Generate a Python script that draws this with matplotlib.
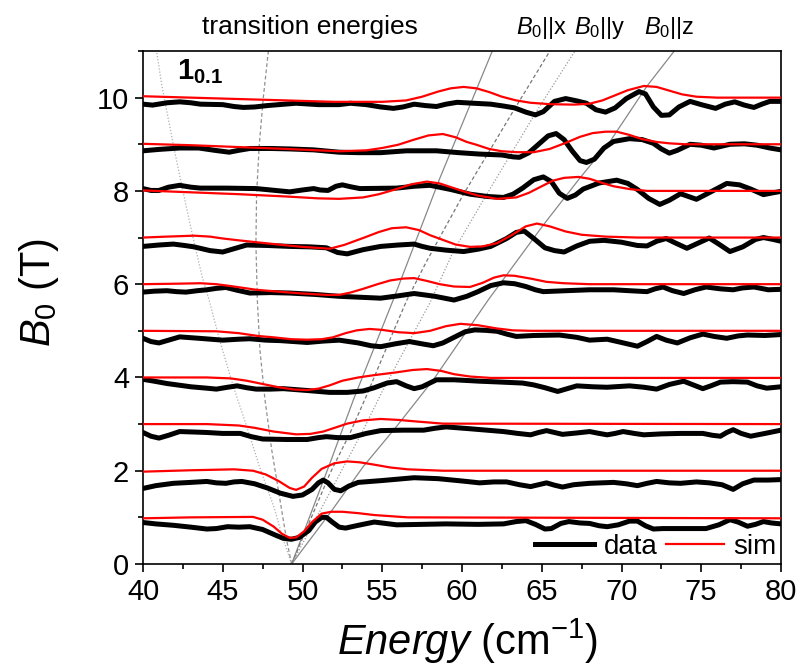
import matplotlib
matplotlib.use('Agg')
import matplotlib.pyplot as plt
from matplotlib.ticker import MultipleLocator
from matplotlib.lines import Line2D

plt.rcParams['font.family'] = ['Liberation Sans', 'DejaVu Sans']
plt.rcParams['mathtext.fontset'] = 'custom'
plt.rcParams['mathtext.rm'] = 'Liberation Sans'
plt.rcParams['mathtext.it'] = 'Liberation Sans:italic'
plt.rcParams['mathtext.bf'] = 'Liberation Sans:bold'

# measured spectra (energy in cm-1, offset by field in T)
data_1 = [(40, 0.89), (40.8, 0.86), (41.9, 0.83), (43, 0.79), (44, 0.75), (44.6, 0.76), (45.3, 0.8),
          (46, 0.79), (46.7, 0.8), (47.5, 0.74), (48.3, 0.62), (48.8, 0.55), (49.3, 0.53), (49.8, 0.57),
          (50.4, 0.72), (50.8, 0.9), (51.2, 1.0), (51.5, 1.0), (51.9, 0.89), (52.3, 0.79), (52.7, 0.77),
          (53.5, 0.83), (54.5, 0.9), (55.2, 0.87), (55.9, 0.84), (57.5, 0.85), (59, 0.86), (61, 0.85),
          (62.6, 0.86), (63.4, 0.91), (64, 0.93), (64.6, 0.85), (65.2, 0.75), (65.6, 0.76), (66.2, 0.87),
          (66.7, 0.91), (67.4, 0.88), (68, 0.87), (68.6, 0.82), (69.1, 0.8), (69.8, 0.84), (70.5, 0.92),
          (71, 0.92), (71.5, 0.82), (72, 0.75), (72.6, 0.76), (73.7, 0.76), (75.3, 0.76), (76.1, 0.84),
          (76.8, 0.95), (77.3, 0.9), (77.9, 0.81), (78.4, 0.85), (78.9, 0.91), (79.4, 0.88), (80, 0.86)]
data_2 = [(40, 1.62), (40.8, 1.68), (41.9, 1.73), (43, 1.75), (44, 1.77), (44.6, 1.74), (45.2, 1.73),
          (45.7, 1.76), (46.2, 1.77), (47, 1.72), (47.8, 1.63), (48.6, 1.52), (49.4, 1.45), (50, 1.48),
          (50.6, 1.6), (51, 1.74), (51.3, 1.8), (51.6, 1.74), (52.0, 1.6), (52.4, 1.57), (52.9, 1.67),
          (53.5, 1.75), (55, 1.79), (57, 1.85), (58.5, 1.83), (60, 1.78), (61.1, 1.74), (62, 1.76),
          (62.8, 1.76), (63.6, 1.7), (64.3, 1.66), (64.8, 1.7), (65.3, 1.74), (65.8, 1.69), (66.3, 1.65),
          (67, 1.7), (68, 1.73), (69.5, 1.75), (70.3, 1.72), (71, 1.68), (71.6, 1.73), (72.2, 1.77),
          (73, 1.74), (73.7, 1.73), (74.7, 1.76), (75.5, 1.74), (76.3, 1.7), (77, 1.6), (77.6, 1.72),
          (78.3, 1.8), (79.2, 1.8), (80, 1.81)]
data_3 = [(40, 2.82), (40.5, 2.74), (41, 2.7), (41.6, 2.76), (42.3, 2.84), (43.2, 2.83), (44, 2.82),
          (45, 2.8), (46.1, 2.8), (46.8, 2.73), (47.5, 2.68), (49, 2.67), (50.3, 2.67), (51, 2.71),
          (51.5, 2.73), (52.2, 2.71), (53, 2.71), (54, 2.8), (54.9, 2.86), (56.3, 2.87), (57.6, 2.87),
          (58.3, 2.91), (59, 2.94), (60.5, 2.9), (62.6, 2.84), (63.5, 2.8), (64.3, 2.77), (64.8, 2.82),
          (65.3, 2.86), (65.8, 2.82), (66.3, 2.78), (67.2, 2.81), (68, 2.84), (68.6, 2.8), (69.1, 2.77),
          (69.6, 2.8), (70.1, 2.84), (70.8, 2.8), (71.4, 2.77), (72.5, 2.79), (73.7, 2.8), (75.1, 2.8),
          (75.7, 2.76), (76.2, 2.74), (76.6, 2.82), (77, 2.88), (77.5, 2.8), (78.1, 2.74), (79, 2.8),
          (80, 2.87)]
data_4 = [(40, 3.96), (40.7, 3.92), (41.5, 3.87), (43, 3.8), (44, 3.77), (44.6, 3.75), (45.3, 3.79),
          (45.9, 3.82), (46.5, 3.78), (47.1, 3.75), (48, 3.75), (48.8, 3.76), (50.3, 3.72), (51.7, 3.68),
          (52.8, 3.68), (53.8, 3.71), (54.5, 3.78), (55.3, 3.88), (55.9, 3.91), (56.5, 3.82), (57, 3.76),
          (57.5, 3.8), (58.4, 3.95), (59.5, 3.95), (61.1, 3.92), (62.5, 3.9), (63.8, 3.88), (64.5, 3.84),
          (65.2, 3.78), (66, 3.7), (66.6, 3.76), (67.2, 3.82), (68.2, 3.8), (69.1, 3.79), (70.5, 3.82),
          (71.4, 3.79), (72.2, 3.75), (73, 3.85), (73.9, 3.92), (74.5, 3.84), (75.1, 3.76), (75.6, 3.82),
          (76.2, 3.9), (77, 3.91), (77.9, 3.9), (78.5, 3.82), (79.1, 3.77), (80, 3.8)]
data_5 = [(40, 4.84), (40.5, 4.77), (41, 4.74), (41.6, 4.8), (42.3, 4.87), (43.5, 4.84), (45, 4.8),
          (46, 4.82), (46.7, 4.83), (47.7, 4.8), (48.6, 4.79), (50.3, 4.75), (51.3, 4.78), (52.3, 4.8),
          (53.5, 4.74), (54.3, 4.68), (54.9, 4.66), (55.8, 4.72), (56.7, 4.77), (57.5, 4.72), (58.2, 4.68),
          (58.8, 4.74), (59.5, 4.86), (60.2, 4.98), (60.8, 5.02), (61.5, 5.01), (62.2, 4.99), (62.8, 4.93),
          (63.4, 4.88), (64.5, 4.9), (66.1, 4.91), (67.2, 4.86), (68, 4.8), (69.1, 4.82), (70, 4.75),
          (71, 4.67), (71.6, 4.77), (72.2, 4.88), (72.8, 4.8), (73.5, 4.74), (74.3, 4.85), (75.1, 4.93),
          (75.8, 4.88), (76.6, 4.84), (77.3, 4.89), (77.9, 4.91), (79, 4.9), (80, 4.92)]
data_6 = [(40, 5.83), (40.7, 5.85), (41.5, 5.86), (42.1, 5.84), (42.7, 5.83), (43.4, 5.86), (44, 5.88),
          (44.6, 5.91), (45.2, 5.93), (45.9, 5.87), (46.7, 5.81), (48, 5.82), (49.2, 5.81), (50.8, 5.78),
          (52.3, 5.74), (53.6, 5.72), (54.9, 5.7), (56, 5.75), (57, 5.8), (58.3, 5.74), (59.5, 5.66),
          (60.3, 5.74), (61, 5.84), (61.8, 5.97), (62.6, 6.03), (63.3, 6.01), (64, 5.95), (64.6, 5.88),
          (65.1, 5.84), (66.5, 5.86), (68, 5.88), (69.5, 5.88), (70.5, 5.86), (71.6, 5.84), (72.1, 5.9),
          (72.6, 5.94), (73.2, 5.86), (73.9, 5.8), (74.6, 5.88), (75.3, 5.94), (76.2, 5.9), (77, 5.88),
          (77.6, 5.92), (78.3, 5.94), (79.2, 5.88), (80, 5.89)]
data_7 = [(40, 6.81), (41, 6.84), (41.9, 6.86), (42.6, 6.83), (43.2, 6.8), (44.2, 6.72), (45, 6.69),
          (45.8, 6.77), (46.5, 6.84), (47.8, 6.83), (49.2, 6.81), (50.5, 6.8), (51.5, 6.78), (52.2, 6.68),
          (52.8, 6.65), (53.8, 6.74), (54.9, 6.81), (56, 6.84), (57, 6.86), (57.5, 6.81), (58, 6.77),
          (59, 6.73), (60.1, 6.7), (61, 6.75), (61.8, 6.81), (62.8, 6.98), (63.4, 7.11), (63.9, 7.14),
          (64.5, 6.98), (65.2, 6.78), (65.8, 6.72), (66.4, 6.69), (67.2, 6.82), (68, 6.92), (68.9, 6.94),
          (70, 6.9), (71, 6.83), (71.6, 6.82), (72.2, 6.92), (72.8, 6.98), (73.4, 6.88), (74.1, 6.77),
          (74.8, 6.88), (75.5, 6.99), (76.1, 6.86), (76.8, 6.7), (77.6, 6.8), (78.4, 6.96), (78.9, 7.0),
          (79.5, 6.96), (80, 6.92)]
data_8 = [(40, 8.05), (40.5, 8.01), (41, 8.01), (41.6, 8.08), (42.3, 8.12), (43, 8.08), (43.6, 8.06),
          (45.2, 8.06), (47.1, 8.05), (48.3, 8.01), (49.2, 7.98), (50, 8.02), (50.7, 8.05), (51.1, 8.02),
          (51.6, 8.01), (52.1, 8.1), (52.5, 8.13), (53, 8.09), (53.6, 8.05), (55.9, 8.06), (57, 8.1),
          (58, 8.12), (59.3, 8.03), (60.5, 7.93), (61.6, 7.88), (62.6, 7.86), (63.2, 7.93), (63.8, 8.06),
          (64.5, 8.24), (65.1, 8.3), (65.6, 8.2), (66.1, 7.95), (66.6, 7.84), (67.1, 7.91), (67.6, 8.04),
          (68.6, 8.17), (69.7, 8.23), (70.4, 8.16), (71, 8.03), (71.7, 7.84), (72.4, 7.71), (73, 7.8),
          (73.7, 7.94), (74.2, 7.88), (74.7, 7.82), (75.6, 7.98), (76.6, 8.16), (77.4, 8.13), (78.1, 8.04),
          (78.9, 7.92), (79.5, 7.96), (80, 7.99)]
data_9 = [(40, 8.86), (41, 8.89), (42.3, 8.92), (43.5, 8.92), (44.5, 8.87), (45.4, 8.83), (46, 8.87),
          (46.7, 8.91), (48, 8.91), (49.2, 8.9), (50.7, 8.88), (52.3, 8.83), (53.5, 8.82), (54.9, 8.82),
          (56.5, 8.86), (58.4, 8.86), (59.8, 8.82), (61.1, 8.79), (62.5, 8.77), (63.2, 8.73), (63.6, 8.72),
          (64.2, 8.82), (64.8, 9.0), (65.4, 9.18), (65.9, 9.23), (66.4, 9.1), (66.9, 8.86), (67.4, 8.65),
          (67.8, 8.61), (68.3, 8.68), (68.9, 8.92), (69.5, 9.06), (70.5, 9.12), (71.3, 9.1), (72, 9.02),
          (72.5, 8.9), (73, 8.81), (73.5, 8.87), (74.3, 9.0), (75, 8.98), (75.8, 8.92), (76.8, 9.0),
          (77.7, 9.01), (78.5, 8.98), (79.3, 8.92), (80, 8.88)]
data_10 = [(40, 9.86), (40.6, 9.84), (41.5, 9.89), (42.3, 9.91), (43, 9.89), (43.6, 9.86), (45, 9.85),
           (45.7, 9.81), (46.3, 9.79), (47, 9.8), (47.8, 9.83), (49.6, 9.88), (51, 9.85), (52.3, 9.85),
           (53, 9.88), (54, 9.85), (54.9, 9.8), (55.7, 9.77), (56.3, 9.8), (57, 9.86), (57.7, 9.83),
           (58.4, 9.81), (59, 9.86), (59.7, 9.9), (60.7, 9.88), (61.8, 9.86), (62.6, 9.82), (63.3, 9.78),
           (64, 9.69), (64.6, 9.63), (65.1, 9.7), (65.8, 9.92), (66.5, 9.98), (67.2, 9.93), (67.8, 9.88),
           (68.4, 9.74), (69, 9.69), (69.6, 9.78), (70.3, 9.98), (71.1, 10.13), (71.5, 10.08), (72, 9.8),
           (72.5, 9.62), (73, 9.63), (73.6, 9.8), (74.3, 9.92), (75, 9.85), (75.9, 9.77), (76.5, 9.86),
           (77.1, 9.91), (77.7, 9.84), (78.3, 9.79), (78.8, 9.86), (79.3, 9.92), (80, 9.92)]

# simulated spectra
sim_1 = [(40, 0.98), (43, 1.0), (46.9, 1.01), (47.5, 0.95), (48.2, 0.8), (48.7, 0.65), (49.2, 0.56),
         (49.6, 0.57), (50.1, 0.7), (50.6, 0.9), (51.2, 1.08), (51.8, 1.12), (52.5, 1.12), (53.5, 1.09),
         (54.5, 1.05), (56.6, 1.0), (80, 0.98)]
sim_2 = [(40, 1.98), (43, 2.01), (45.7, 2.03), (46.9, 2.0), (47.7, 1.92), (48.5, 1.78), (49.2, 1.63),
         (49.6, 1.59), (50.1, 1.66), (50.6, 1.85), (51.2, 2.04), (52, 2.16), (52.8, 2.2), (53.6, 2.18),
         (54.5, 2.13), (55.5, 2.07), (56.6, 2.03), (58.8, 2.0), (80, 2.0)]
sim_3 = [(40, 3.0), (44, 3.0), (46, 2.97), (47, 2.92), (48.2, 2.84), (49.6, 2.78), (50.5, 2.79),
         (51.3, 2.84), (52.1, 2.93), (52.8, 3.01), (53.8, 3.08), (54.9, 3.11), (56, 3.09), (57, 3.06),
         (58.8, 3.01), (80, 3.0)]
sim_4 = [(40, 4.0), (44, 4.0), (45.5, 3.98), (46.5, 3.93), (47.5, 3.86), (48.5, 3.79), (49.5, 3.74),
         (50.3, 3.73), (51, 3.76), (51.7, 3.83), (52.5, 3.93), (53.5, 4.0), (54.5, 4.05), (55.9, 4.11),
         (56.9, 4.16), (57.8, 4.18), (58.7, 4.14), (59.5, 4.07), (60.5, 4.02), (61.8, 3.99), (80, 3.99)]
sim_5 = [(40, 5.0), (44.6, 4.99), (46, 4.95), (47.2, 4.89), (48.2, 4.86), (49.3, 4.82), (50.3, 4.81),
         (51.2, 4.82), (51.9, 4.86), (52.7, 4.95), (53.4, 5.01), (54.2, 5.04), (55, 5.02), (56, 4.97),
         (57, 4.95), (58, 5.0), (59, 5.1), (59.9, 5.15), (61, 5.12), (62.2, 5.05), (63.2, 5.01),
         (64.3, 5.0), (80, 5.0)]
sim_6 = [(40, 6.0), (42, 6.01), (43.6, 6.02), (44.6, 6.0), (45.5, 5.96), (47.1, 5.88), (48.5, 5.84),
         (50, 5.8), (51.5, 5.77), (52.3, 5.77), (53, 5.82), (53.8, 5.9), (54.7, 6.0), (55.5, 6.08),
         (56.3, 6.12), (57, 6.13), (57.8, 6.07), (58.6, 6.0), (59.5, 5.95), (60.5, 5.94), (61.3, 6.03),
         (62, 6.14), (62.6, 6.19), (63.3, 6.18), (64.3, 6.12), (65.3, 6.05), (66.4, 6.02), (68, 6.0),
         (80, 6.0)]
sim_7 = [(40, 7.0), (41.5, 7.02), (43.2, 7.04), (44.2, 7.02), (45, 6.98), (46, 6.94), (47.1, 6.9),
         (48.5, 6.85), (50, 6.8), (51.7, 6.76), (52.6, 6.84), (53.8, 6.99), (54.8, 7.12), (55.6, 7.2),
         (56.5, 7.22), (57.3, 7.16), (58, 7.05), (58.8, 6.95), (59.6, 6.85), (60.5, 6.8), (61.3, 6.81),
         (62.2, 6.88), (63.1, 7.05), (64, 7.24), (64.7, 7.3), (65.5, 7.24), (66.5, 7.13), (67.5, 7.06),
         (69, 7.02), (71, 7.0), (80, 7.0)]
sim_8 = [(40, 8.01), (43, 7.97), (46, 7.93), (49, 7.88), (51, 7.84), (52.3, 7.83), (53.8, 7.86),
         (54.8, 7.93), (55.8, 8.03), (56.8, 8.14), (57.8, 8.2), (58.6, 8.16), (59.4, 8.07), (60.1, 7.99),
         (61, 7.9), (62.2, 7.83), (63.4, 7.86), (64.2, 7.96), (65, 8.1), (65.7, 8.22), (66.4, 8.28),
         (67.3, 8.3), (68, 8.26), (68.8, 8.17), (69.5, 8.1), (70.5, 8.04), (71.6, 8.0), (80, 8.0)]
sim_9 = [(40, 9.01), (43, 8.98), (46, 8.94), (49, 8.9), (52.3, 8.85), (54, 8.87), (55, 8.92),
         (56, 8.99), (57, 9.1), (57.9, 9.19), (58.8, 9.22), (59.6, 9.15), (60.3, 9.05), (60.9, 8.99),
         (61.7, 8.9), (62.5, 8.85), (63.5, 8.83), (64.5, 8.83), (65.5, 8.9), (66.5, 9.03), (67.4, 9.16),
         (68.2, 9.24), (69, 9.27), (69.7, 9.27), (70.5, 9.2), (71.3, 9.11), (72.2, 9.05), (73, 9.02),
         (74, 9.0), (80, 9.0)]
sim_10 = [(40, 10.03), (43, 10.0), (46, 9.97), (49, 9.94), (52, 9.91), (55, 9.91), (56.5, 9.94),
          (57.5, 10.02), (58.5, 10.13), (59.3, 10.2), (60.1, 10.23), (60.9, 10.2), (61.7, 10.12),
          (62.5, 10.02), (63.4, 9.94), (64.3, 9.89), (65.5, 9.86), (67, 9.85), (68, 9.87), (68.8, 9.94),
          (69.6, 10.05), (70.4, 10.16), (71.4, 10.25), (72.2, 10.23), (73, 10.15), (73.8, 10.07),
          (74.7, 10.02), (76, 10.0), (80, 10.0)]

# calculated transition energies vs field
trans_left_dot = [(49.32, 0), (48.8, 0.52), (48.2, 1.23), (47.3, 2.09), (46.5, 2.95), (45.66, 3.81),
                  (44.8, 4.81), (44.15, 5.65), (43.68, 6.2), (43.05, 7.13), (42.42, 8.13), (41.9, 8.99),
                  (41.17, 10.28), (40.85, 11.0)]
trans_left_dash = [(49.32, 0), (49.0, 0.52), (48.59, 1.37), (48.07, 2.45), (47.65, 3.52), (47.33, 4.59),
                   (47.17, 5.65), (47.08, 6.85), (47.12, 7.92), (47.29, 8.99), (47.54, 9.99), (47.86, 11.0)]
trans_x = [(49.32, 0), (51.72, 2.16), (53.19, 3.52), (55.69, 5.665), (58.62, 8.28), (61.9, 11.0)]
trans_y_dash = [(49.32, 0), (51.72, 1.94), (52.97, 2.8), (54.0, 3.6), (55.48, 4.81), (56.53, 5.65),
                (57.78, 6.49), (60.08, 7.92), (63.21, 9.71), (65.51, 11.0)]
trans_y_dot = [(49.32, 0), (52.35, 1.94), (53.7, 2.8), (55.0, 3.7), (56.74, 4.81), (57.99, 5.6),
               (59.45, 6.7), (61.54, 7.92), (64.68, 9.71), (67.08, 11.0)]
trans_z = [(49.32, 0), (51.72, 1.09), (53.81, 2.09), (55.9, 2.95), (58.2, 3.95), (61.65, 5.665),
           (62.8, 6.2), (65.1, 7.27), (67.4, 8.28), (69.28, 9.06), (71.58, 10.24), (73.31, 11.0)]

data_traces = [data_1, data_2, data_3, data_4, data_5, data_6, data_7, data_8, data_9, data_10]
sim_traces = [sim_1, sim_2, sim_3, sim_4, sim_5, sim_6, sim_7, sim_8, sim_9, sim_10]


def xy(points):
    return [p[0] for p in points], [p[1] for p in points]


fig = plt.figure(figsize=(8, 6.66), dpi=100)
ax = fig.add_axes([0.17875, 0.15315, 0.7975, 0.77027])

for pts, ls, col in [(trans_left_dot, (0, (1, 1.5)), '#b0b0b0'),
                     (trans_left_dash, (0, (3, 2)), '#909090'),
                     (trans_x, '-', '#888888'),
                     (trans_y_dash, (0, (3, 2)), '#777777'),
                     (trans_y_dot, (0, (1, 1.5)), '#999999'),
                     (trans_z, '-', '#888888')]:
    ax.plot(*xy(pts), ls=ls, color=col, lw=0.9, zorder=1)

for pts in data_traces:
    ax.plot(*xy(pts), color='black', lw=3.6, solid_joinstyle='round', solid_capstyle='round', zorder=2)
for pts in sim_traces:
    ax.plot(*xy(pts), color='red', lw=1.6, solid_joinstyle='round', zorder=3)

ax.set_xlim(40, 80)
ax.set_ylim(0, 11)
ax.xaxis.set_major_locator(MultipleLocator(5))
ax.xaxis.set_minor_locator(MultipleLocator(2.5))
ax.yaxis.set_major_locator(MultipleLocator(2))
ax.yaxis.set_minor_locator(MultipleLocator(1))
ax.tick_params(which='both', direction='out', top=False, right=False, labelsize=21, width=1.2)
ax.tick_params(which='major', length=6, pad=4)
ax.tick_params(which='minor', length=3.5)
for s in ax.spines.values():
    s.set_linewidth(1.2)

ax.set_xlabel(r'$Energy$ (cm$^{-1}$)', fontsize=30)
ax.set_ylabel(r'$B_0$ (T)', fontsize=30)
ax.xaxis.set_label_coords(0.508, -0.102)
ax.yaxis.set_label_coords(-0.128, 0.53)

ax.text(50.47, 11.52, 'transition energies', fontsize=19, ha='center', va='center')
ax.text(65.0, 11.5, r'$B_{\rm 0}$||x', fontsize=17, ha='center', va='center')
ax.text(68.65, 11.5, r'$B_{\rm 0}$||y', fontsize=17, ha='center', va='center')
ax.text(72.98, 11.5, r'$B_{\rm 0}$||z', fontsize=17, ha='center', va='center')
ax.text(42.15, 10.4, r'$\mathbf{1}_{\mathbf{0.1}}$', fontsize=21, ha='left', va='baseline')

handles = [Line2D([], [], color='black', lw=3.6), Line2D([], [], color='red', lw=1.6)]
ax.legend(handles, ['data', 'sim'], loc='lower right', ncol=2, frameon=False, fontsize=20,
          handlelength=2.1, handletextpad=0.35, columnspacing=0.3, borderaxespad=0.05,
          borderpad=0.1)

fig.savefig('out.png', dpi=100)
